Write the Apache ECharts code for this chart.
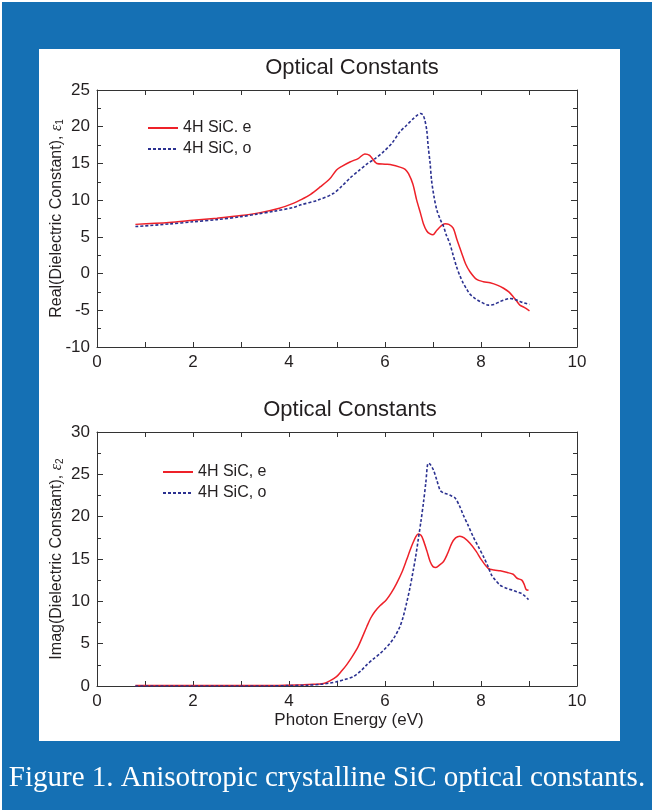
<!DOCTYPE html>
<html><head><meta charset="utf-8">
<script src="https://cdn.jsdelivr.net/npm/echarts@6/dist/echarts.min.js"></script>
<style>html,body{margin:0;padding:0;background:#fff;}#c{width:652px;height:810px;}</style>
</head><body><div id="c"></div>
<script>
// ---- data ----
const xTicks = [0, 2, 4, 6, 8, 10];
const realE_x = [0.8,1.5,2.0,2.5,3.0,3.4,3.8,4.1,4.23,4.45,4.65,4.85,4.99,5.1,5.27,5.45,5.58,5.68,5.83,6.0,6.15,6.31,6.42,6.49,6.58,6.66,6.74,6.80,6.87,6.94,7.0,7.08,7.17,7.25,7.33,7.42,7.5,7.6,7.68,7.77,7.91,8.05,8.19,8.35,8.47,8.58,8.67,8.75,8.81,8.9,9.01];
const realE_y = [6.7,6.95,7.25,7.55,7.9,8.3,8.9,9.6,10.0,10.8,11.8,12.9,14.1,14.6,15.2,15.7,16.3,16.1,15.0,14.9,14.8,14.5,14.2,13.6,12.2,10.0,8.2,6.8,5.8,5.4,5.3,5.9,6.5,6.8,6.7,6.2,4.6,2.75,1.3,0.25,-0.8,-1.1,-1.25,-1.6,-2.0,-2.5,-3.15,-3.8,-4.3,-4.6,-5.07];
const realO_x = [0.8,1.5,2.0,2.5,3.0,3.33,3.7,4.09,4.23,4.6,4.92,5.1,5.27,5.45,5.62,5.8,5.97,6.15,6.31,6.45,6.59,6.68,6.74,6.79,6.83,6.87,6.90,6.94,6.97,7.02,7.08,7.15,7.22,7.28,7.35,7.42,7.49,7.56,7.63,7.7,7.77,7.88,7.98,8.07,8.15,8.27,8.40,8.5,8.60,8.7,8.81,8.9,9.01];
const realO_y = [6.4,6.75,7.05,7.35,7.75,8.1,8.5,9.0,9.33,10.0,10.9,11.9,13.0,14.0,14.9,15.7,16.6,17.8,19.3,20.2,21.1,21.6,21.8,21.6,20.9,19.5,17.3,15.0,12.7,10.5,8.65,7.4,6.4,5.2,4.1,2.5,0.93,-0.3,-1.3,-2.1,-2.8,-3.4,-3.8,-4.1,-4.3,-4.2,-3.8,-3.55,-3.4,-3.5,-3.8,-4.0,-4.2];
const imagE_x = [0.8,1.5,2.0,2.5,3.0,3.5,4.0,4.3,4.5,4.72,4.85,4.99,5.1,5.2,5.32,5.44,5.53,5.62,5.7,5.79,5.9,6.03,6.13,6.24,6.35,6.45,6.52,6.59,6.64,6.69,6.75,6.80,6.87,6.94,7.0,7.06,7.14,7.22,7.3,7.39,7.47,7.56,7.65,7.77,7.9,8.01,8.15,8.27,8.40,8.55,8.67,8.72,8.76,8.85,8.9,8.94,8.99];
const imagE_y = [0.05,0.05,0.05,0.05,0.05,0.05,0.1,0.15,0.2,0.3,0.6,1.1,1.8,2.5,3.5,4.65,5.8,7.0,8.0,8.8,9.5,10.2,11.0,12.1,13.4,14.9,16.0,17.0,17.6,17.95,17.8,17.2,16.0,14.7,14.1,14.0,14.3,14.7,15.6,16.85,17.5,17.7,17.5,16.85,15.9,14.9,13.9,13.7,13.6,13.4,13.2,12.9,12.7,12.5,12.0,11.4,11.3];
const imagO_x = [0.8,1.5,2.0,2.5,3.0,3.5,4.0,4.4,4.65,4.85,4.99,5.15,5.34,5.5,5.62,5.76,5.90,6.0,6.10,6.2,6.31,6.38,6.45,6.52,6.59,6.64,6.69,6.75,6.80,6.85,6.90,6.94,7.01,7.08,7.15,7.22,7.28,7.37,7.46,7.55,7.63,7.73,7.84,7.95,8.05,8.14,8.22,8.3,8.40,8.55,8.67,8.76,8.85,8.92,8.99];
const imagO_y = [0.0,0.0,0.0,0.0,0.0,0.0,0.05,0.1,0.2,0.35,0.5,0.75,1.1,1.8,2.5,3.2,3.85,4.4,5.0,5.8,7.0,8.2,9.8,11.6,13.7,15.3,17.2,19.5,21.6,24.0,26.3,26.2,25.5,24.3,23.1,22.8,22.7,22.5,22.2,21.3,20.2,19.0,17.6,16.4,15.3,14.2,13.1,12.5,11.9,11.5,11.3,11.1,10.9,10.6,10.2];
const names = {topE: '4H SiC. e', topO: '4H SiC, o', botE: '4H SiC, e', botO: '4H SiC, o'};

const pair = (xs, ys) => xs.map((x, i) => [x, ys[i]]);
const RED = '#ee2129', BLUE = '#2b3190', AX = '#333', TXT = '#231f20';
const FONT = 'Liberation Sans, Arial, sans-serif';

function xAx(grid, top) {
  return {
    type: 'value', gridIndex: grid, min: 0, max: 10, interval: 2,
    position: top ? 'top' : 'bottom',
    axisLine: {show: true, onZero: false, lineStyle: {color: AX, width: 1}},
    axisTick: {show: true, inside: true, length: 5, lineStyle: {color: AX}},
    minorTick: {show: true, splitNumber: 2, length: 5, lineStyle: {color: AX}},
    axisLabel: {show: !top, color: TXT, fontSize: 17, fontFamily: FONT, margin: 7,
      formatter: v => xTicks.includes(v) ? String(v) : ''},
    splitLine: {show: false}
  };
}
function yAx(grid, min, max, right, name) {
  return {
    type: 'value', gridIndex: grid, min: min, max: max, interval: 5,
    position: right ? 'right' : 'left',
    axisLine: {show: true, onZero: false, lineStyle: {color: AX, width: 1}},
    axisTick: {show: true, inside: true, length: 6, lineStyle: {color: AX}},
    minorTick: {show: true, splitNumber: 2, length: 4, lineStyle: {color: AX}},
    axisLabel: {show: !right, color: TXT, fontSize: 17, fontFamily: FONT, margin: 7},
    splitLine: {show: false},
    name: right ? '' : name, nameLocation: 'middle', nameGap: 32, nameRotate: 90,
    nameMoveOverlap: false,
    nameTextStyle: {color: TXT, fontSize: 16, fontFamily: FONT,
      rich: {e: {fontSize: 16, fontStyle: 'italic', fontFamily: 'Liberation Serif, serif', color: TXT},
             s: {fontSize: 10, color: TXT, fontFamily: FONT, padding: [7, 0, 0, 0]}}}
  };
}
function line(name, xi, yi, xs, ys, color, dashed) {
  return {
    name: name, type: 'line', xAxisIndex: xi, yAxisIndex: yi, data: pair(xs, ys),
    showSymbol: false, symbol: 'none', smooth: 0.3, animation: false,
    lineStyle: {color: color, width: dashed ? 1.6 : 1.5, type: dashed ? [3, 2] : 'solid'},
    itemStyle: {color: color}
  };
}
const legendBase = {orient: 'vertical', itemWidth: 30, itemHeight: 14, itemGap: 5, padding: 0,
  itemStyle: {opacity: 0}, textStyle: {color: TXT, fontSize: 16, fontFamily: FONT}, selectedMode: false};

const chart = echarts.init(document.getElementById('c'), null, {renderer: 'canvas'});
chart.setOption({
  backgroundColor: '#1570b4',
  animation: false,
  graphic: [
    {type: 'rect', shape: {x: 0, y: 0, width: 652, height: 2}, style: {fill: '#fff'}, z: -10},
    {type: 'rect', shape: {x: 0, y: 0, width: 2, height: 810}, style: {fill: '#fff'}, z: -10},
    {type: 'rect', shape: {x: 39, y: 49, width: 581, height: 692}, style: {fill: '#fff'}, z: -10},
    {type: 'text', x: 352, y: 68, style: {text: 'Optical Constants', fill: TXT, fontSize: 22, fontFamily: FONT, textAlign: 'center', textVerticalAlign: 'middle'}},
    {type: 'text', x: 350, y: 410, style: {text: 'Optical Constants', fill: TXT, fontSize: 22, fontFamily: FONT, textAlign: 'center', textVerticalAlign: 'middle'}},
    {type: 'text', x: 349, y: 720, style: {text: 'Photon Energy (eV)', fill: TXT, fontSize: 17, fontFamily: FONT, textAlign: 'center', textVerticalAlign: 'middle'}},
    {type: 'text', x: 327, y: 778, style: {text: 'Figure 1. Anisotropic crystalline SiC optical constants.', fill: '#fff', fontSize: 29, fontFamily: 'Liberation Serif, Times New Roman, serif', textAlign: 'center', textVerticalAlign: 'middle'}}
  ],
  grid: [
    {left: 97, top: 90, width: 480, height: 257},
    {left: 97, top: 432, width: 480, height: 254}
  ],
  xAxis: [xAx(0, false), xAx(0, true), xAx(1, false), xAx(1, true)],
  yAxis: [
    yAx(0, -10, 25, false, 'Real(Dielectric Constant), {e|ε}{s|1}'),
    yAx(0, -10, 25, true, ''),
    yAx(1, 0, 30, false, 'Imag(Dielectric Constant), {e|ε}{s|2}'),
    yAx(1, 0, 30, true, '')
  ],
  legend: [
    Object.assign({data: [names.topE, names.topO], left: 147, top: 120}, legendBase),
    Object.assign({data: [names.botE, names.botO], left: 162, top: 464}, legendBase)
  ],
  series: [
    line(names.topE, 0, 0, realE_x, realE_y, RED, false),
    line(names.topO, 0, 0, realO_x, realO_y, BLUE, true),
    line(names.botE, 2, 2, imagE_x, imagE_y, RED, false),
    line(names.botO, 2, 2, imagO_x, imagO_y, BLUE, true)
  ]
});
</script></body></html>
